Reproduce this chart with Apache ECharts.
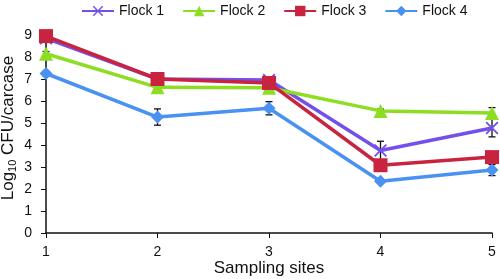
<!DOCTYPE html>
<html>
<head>
<meta charset="utf-8">
<script src="https://cdn.jsdelivr.net/npm/echarts@6/dist/echarts.min.js"></script>
<style>
    html, body { margin: 0; padding: 0; background: #fff; }
    #chart { width: 500px; height: 279px; }
</style>
</head>
<body>
<div id="chart"></div>
<script>
// 数据
const sites = [1, 2, 3, 4, 5];
const flockNames = ['Flock 1', 'Flock 2', 'Flock 3', 'Flock 4'];
const flock1 = [8.85, 7.0, 6.95, 3.75, 4.77];
const flock2 = [8.15, 6.62, 6.6, 5.55, 5.45];
const flock3 = [8.95, 7.0, 6.82, 3.08, 3.45];
const flock4 = [7.25, 5.27, 5.67, 2.35, 2.86];
const err1 = [0.15, 0.1, 0.1, 0.42, 0.4];
const err2 = [0.1, 0.12, 0.12, 0.08, 0.25];
const err3 = [0.15, 0.08, 0.08, 0.1, 0.1];
const err4 = [0.1, 0.37, 0.3, 0.08, 0.25];

const colors = ['#7450ea', '#8ddd22', '#c9243f', '#4a92f2'];
const crossPath = 'path://M0,1L1,0L5,4L9,0L10,1L6,5L10,9L9,10L5,6L1,10L0,9L4,5Z';
const symbols = [crossPath, 'triangle', 'rect', 'diamond'];
const symbolSizes = [13, 14, 14, 13];
const FONT = 'Liberation Sans, Arial, sans-serif';

const chart = echarts.init(document.getElementById('chart'));

const values = [flock1, flock2, flock3, flock4];
const errs = [err1, err2, err3, err4];

const lineSeries = values.map((vals, i) => ({
    name: flockNames[i],
    type: 'line',
    data: vals.map((v, j) => [sites[j], v]),
    symbol: symbols[i],
    symbolSize: symbolSizes[i],
    showSymbol: true,
    lineStyle: { width: 3.5, color: colors[i] },
    itemStyle: { color: colors[i] },
    z: 3 + i
}));

// 误差线
const errData = [];
values.forEach((vals, i) => {
    vals.forEach((v, j) => errData.push([sites[j], v - errs[i][j], v + errs[i][j]]));
});

const errSeries = {
    type: 'custom',
    data: errData,
    z: 1,
    silent: true,
    renderItem: function(params, api) {
        const lo = api.coord([api.value(0), api.value(1)]);
        const hi = api.coord([api.value(0), api.value(2)]);
        const cap = 3.5;
        const style = { stroke: '#111', lineWidth: 1.3 };
        return {
            type: 'group',
            children: [
                { type: 'line', shape: { x1: lo[0], y1: lo[1], x2: hi[0], y2: hi[1] }, style: style },
                { type: 'line', shape: { x1: lo[0] - cap, y1: lo[1], x2: lo[0] + cap, y2: lo[1] }, style: style },
                { type: 'line', shape: { x1: hi[0] - cap, y1: hi[1], x2: hi[0] + cap, y2: hi[1] }, style: style }
            ]
        };
    }
};

chart.setOption({
    animation: false,
    textStyle: { fontFamily: FONT },
    legend: {
        top: -1,
        left: 76,
        width: 420,
        itemWidth: 32,
        itemHeight: 13,
        itemGap: 18,
        textStyle: { fontSize: 14, color: '#111', fontFamily: FONT },
        data: flockNames
    },
    grid: { left: 46, right: 8, top: 35, bottom: 46, outerBoundsMode: 'none' },
    xAxis: {
        type: 'value',
        min: 1,
        max: 5,
        interval: 1,
        name: 'Sampling sites',
        nameLocation: 'middle',
        nameGap: 27,
        nameMoveOverlap: false,
        nameTextStyle: { fontSize: 17, color: '#111', fontFamily: FONT },
        axisLine: { lineStyle: { color: '#111', width: 1.5 } },
        axisTick: { length: 5, lineStyle: { color: '#111' } },
        axisLabel: { fontSize: 14, color: '#111', margin: 12 },
        splitLine: { show: false }
    },
    yAxis: {
        type: 'value',
        min: 0,
        max: 9,
        interval: 1,
        name: '{a|Log}{s|10}{a| CFU/carcase}',
        nameLocation: 'middle',
        nameRotate: 90,
        nameGap: 28,
        nameMoveOverlap: false,
        nameTextStyle: {
            padding: [0, 0, 0, 12],
            rich: {
                a: { fontSize: 17, color: '#111', fontFamily: FONT },
                s: { fontSize: 11, color: '#111', fontFamily: FONT, padding: [9, 0, 0, 0] }
            }
        },
        axisLine: { show: true, lineStyle: { color: '#111', width: 1.5 } },
        axisTick: { show: true, length: 5, lineStyle: { color: '#111' } },
        axisLabel: { fontSize: 14, color: '#111', margin: 14 },
        splitLine: { show: false }
    },
    series: lineSeries.concat([errSeries])
});
</script>
</body>
</html>
